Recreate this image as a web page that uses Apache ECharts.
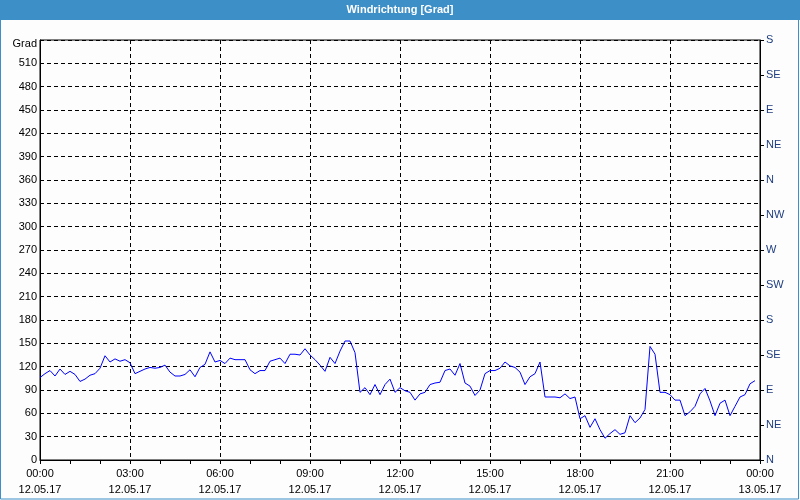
<!DOCTYPE html>
<html><head><meta charset="utf-8">
<script src="https://cdn.jsdelivr.net/npm/echarts@6/dist/echarts.min.js"></script>
<style>html,body{margin:0;padding:0;background:#fcfdfc}#c{width:800px;height:500px}</style>
</head><body><div id="c"></div>
<script>
// wind direction in degrees, one sample every 10 minutes, 12.05.17 00:00 .. 23:50
const windDirFirstHalf = [
  106,111,115,108,117,110,114,110,101,104,
  109,111,118,134,126,130,127,129,125,111,
  114,117,119,118,119,122,113,108,108,110,
  116,107,119,123,139,126,128,124,131,129,
  129,129,116,111,115,115,127,129,131,124,
  136,136,135,143,135,129,122,114,132,124,
  140,153,153,138,87,93,84,97,84,97,
  104,87
];
const windDirSecondHalf = [
  93,89,87,77,85,87,97,99,
  100,115,117,109,124,99,95,83,90,111,
  115,115,118,126,121,119,113,97,107,111,
  126,81,81,81,80,85,79,81,53,57,
  42,53,39,28,34,39,33,35,57,48,
  54,65,146,136,87,87,84,77,77,57,
  62,69,85,92,76,57,73,77,57,69,
  81,84,98,102
];
const sampleStepMinutes = 10;
const xTickLabels = ['00:00\n12.05.17','03:00\n12.05.17','06:00\n12.05.17','09:00\n12.05.17','12:00\n12.05.17','15:00\n12.05.17','18:00\n12.05.17','21:00\n12.05.17','00:00\n13.05.17'];
const compassLabels = ['N','NE','E','SE','S','SW','W','NW','N','NE','E','SE','S'];

const windDir = windDirFirstHalf.concat(windDirSecondHalf);
const seriesData = windDir.map((v, i) => [i * sampleStepMinutes, v]);

const chart = echarts.init(document.getElementById('c'), null, {renderer: 'canvas'});
const font = 'Liberation Sans, Arial, sans-serif';
chart.setOption({
  animation: false,
  backgroundColor: '#fcfdfc',
  title: {
    text: 'Windrichtung [Grad]', left: 'center', top: 0, padding: [4, 5], z: 10,
    textStyle: {color: '#ffffff', fontSize: 11, fontWeight: 'bold', fontFamily: font}
  },
  graphic: [
    {type: 'rect', shape: {x: 0, y: 0, width: 800, height: 20}, style: {fill: '#3d8fc8'}, z: 0},
    {type: 'rect', shape: {x: 0.5, y: 0.5, width: 798, height: 498.5}, style: {fill: null, stroke: '#3d8fc8', lineWidth: 1}, z: 0}
  ],
  grid: {left: 40, right: 40, top: 40, bottom: 40, show: true, borderColor: '#000', borderWidth: 1, backgroundColor: 'transparent'},
  xAxis: {
    type: 'value', min: 0, max: 1440, interval: 180,
    axisLine: {show: true, lineStyle: {color: '#000', width: 1}},
    axisTick: {show: true, length: 4, lineStyle: {color: '#000'}},
    minorTick: {show: true, splitNumber: 3, length: 4, lineStyle: {color: '#000'}},
    splitLine: {show: true, lineStyle: {color: '#000', type: [4, 3], width: 1}},
    axisLabel: {
      margin: 6, color: '#000', fontSize: 11, fontFamily: font, lineHeight: 16,
      formatter: v => xTickLabels[Math.round(v / 180)]
    }
  },
  yAxis: [
    {
      type: 'value', min: 0, max: 540, interval: 30, position: 'left',
      axisLine: {show: true, lineStyle: {color: '#000', width: 1}},
      axisTick: {show: false},
      splitLine: {show: true, lineStyle: {color: '#000', type: [4, 3], width: 1}},
      axisLabel: {
        margin: 3, color: '#000', fontSize: 11, fontFamily: font,
        formatter: v => v === 540 ? '{g|Grad}' : String(v),
        rich: {g: {fontSize: 11, fontFamily: font, color: '#000', padding: [8, 0, 0, 0]}}
      }
    },
    {
      type: 'value', min: 0, max: 540, interval: 45, position: 'right',
      axisLine: {show: true, lineStyle: {color: '#000', width: 1}},
      axisTick: {show: true, length: 4, lineStyle: {color: '#000'}},
      splitLine: {show: false},
      axisLabel: {
        margin: 6, color: '#1f3d80', fontSize: 11, fontFamily: font,
        formatter: v => compassLabels[Math.round(v / 45)]
      }
    }
  ],
  series: [{
    type: 'line', yAxisIndex: 0, data: seriesData, showSymbol: false, symbol: 'none',
    lineStyle: {color: '#0000ff', width: 1}, z: 5
  }]
});
</script></body></html>
